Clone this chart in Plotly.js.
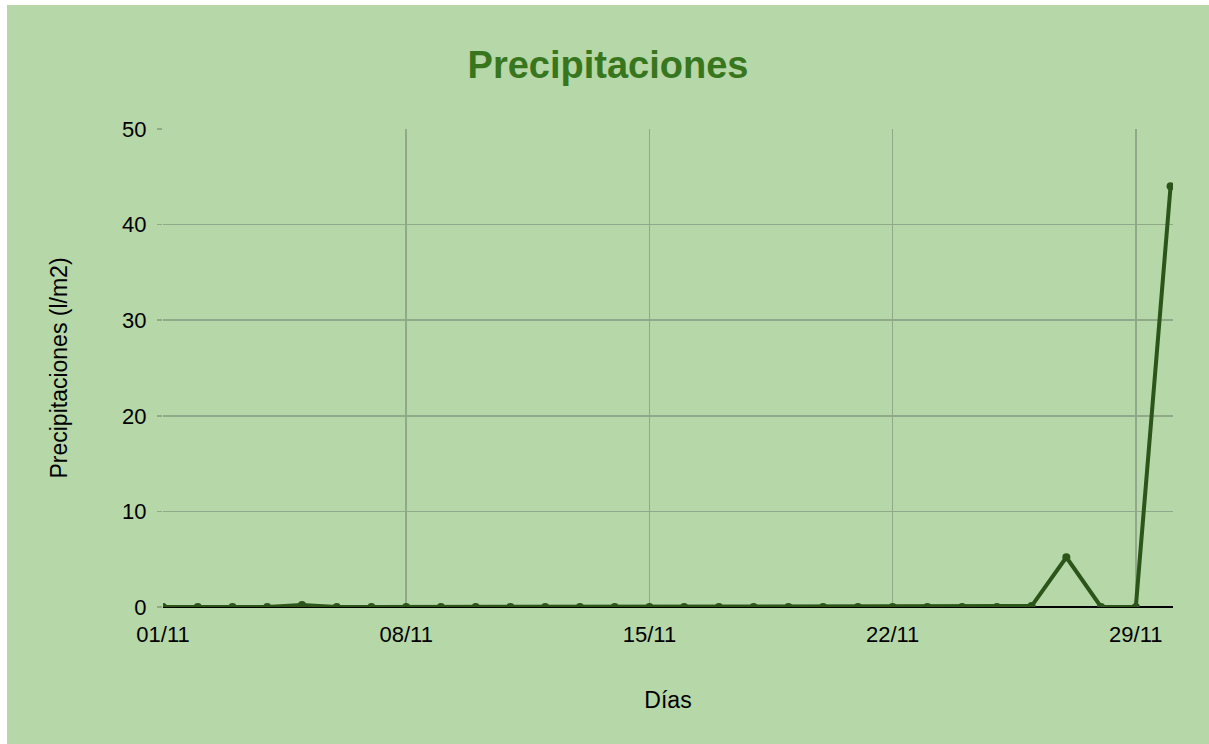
<!DOCTYPE html>
<html>
<head>
<meta charset="utf-8">
<script src="https://cdn.plot.ly/plotly-3.0.1.min.js"></script>
<style>
  html, body { margin: 0; padding: 0; background: #ffffff; overflow: hidden; }
  #chart { position: absolute; left: 7px; top: 5px; width: 1202px; height: 739px; }
</style>
</head>
<body>
<div id="chart"></div>
<script>
const days = ["01/11","02/11","03/11","04/11","05/11","06/11","07/11","08/11","09/11","10/11",
              "11/11","12/11","13/11","14/11","15/11","16/11","17/11","18/11","19/11","20/11",
              "21/11","22/11","23/11","24/11","25/11","26/11","27/11","28/11","29/11","30/11"];
const precip = [0, 0, 0, 0, 0.2, 0, 0, 0, 0, 0,
                0, 0, 0, 0, 0, 0, 0, 0, 0, 0,
                0, 0, 0, 0, 0, 0.1, 5.2, 0, 0, 44];
const tickLabels = ["01/11","08/11","15/11","22/11","29/11"];
const yTicks = [0, 10, 20, 30, 40, 50];

const trace = {
  x: days,
  y: precip,
  type: 'scatter',
  mode: 'lines+markers',
  line: { color: '#2b5519', width: 4 },
  marker: { color: '#2b5519', size: 8 },
  hoverinfo: 'x+y'
};

const layout = {
  width: 1202,
  height: 739,
  paper_bgcolor: '#b6d7a8',
  plot_bgcolor: '#b6d7a8',
  margin: { l: 156, r: 36, t: 124, b: 137 },
  showlegend: false,
  font: { family: 'Liberation Sans, Arial, sans-serif', color: '#000000', size: 22 },
  title: {
    text: '<b>Precipitaciones</b>',
    font: { family: 'Liberation Sans, Arial, sans-serif', size: 38, color: '#38761d' },
    x: 0.5, xanchor: 'center',
    y: 1 - 60 / 739, yanchor: 'middle'
  },
  xaxis: {
    type: 'category',
    range: [0, 29.07],
    tickmode: 'array',
    tickvals: tickLabels,
    ticktext: tickLabels,
    showgrid: true,
    gridcolor: '#8fa98a',
    gridwidth: 1.5,
    zeroline: false,
    showline: false,
    ticks: '',
    ticklabelstandoff: 12,
    tickfont: { size: 22, color: '#000000' },
    title: { text: 'Días', font: { size: 23, color: '#000000' }, standoff: 45 }
  },
  yaxis: {
    range: [0, 50],
    tickvals: yTicks,
    showgrid: true,
    gridcolor: '#8fa98a',
    gridwidth: 1.5,
    zeroline: true,
    zerolinecolor: '#000000',
    zerolinewidth: 2,
    ticks: 'outside',
    ticklen: 5,
    tickcolor: '#8fa98a',
    tickwidth: 1.5,
    ticklabelstandoff: 6,
    tickfont: { size: 22, color: '#000000' },
    title: { text: 'Precipitaciones (l/m2)', font: { size: 23, color: '#000000' }, standoff: 48 }
  }
};

Plotly.newPlot('chart', [trace], layout, { displayModeBar: false, staticPlot: true });
</script>
</body>
</html>
